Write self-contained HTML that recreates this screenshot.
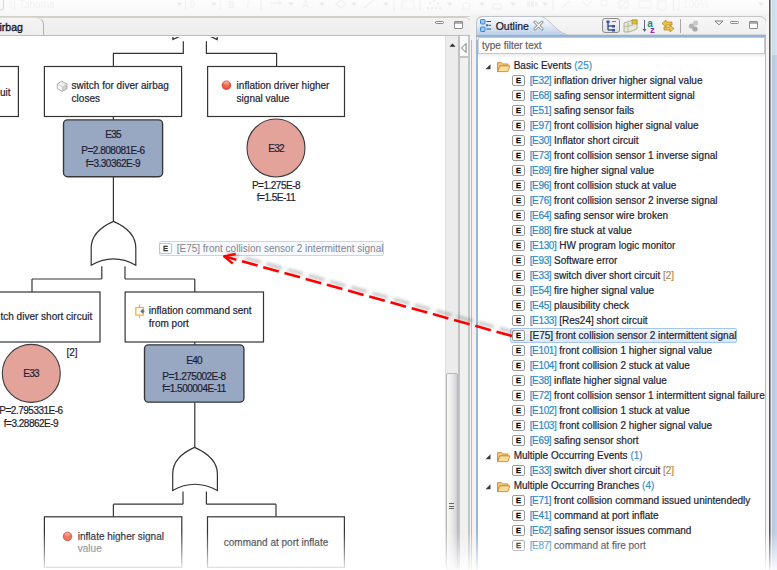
<!DOCTYPE html>
<html><head><meta charset="utf-8">
<style>
*{margin:0;padding:0;box-sizing:border-box}
html,body{width:777px;height:570px;overflow:hidden;background:#fff;font-family:"Liberation Sans",sans-serif;font-size:10px;color:#1e1e32}
.a{position:absolute}
.t{position:absolute;white-space:nowrap;line-height:12px;-webkit-text-stroke:0.2px currentColor}
#toolbar{left:0;top:0;width:777px;height:17px;background:linear-gradient(#fdfdfd,#f7f7f7);border-bottom:1.5px solid #d4d0c8}
#edtabs{left:0;top:16.5px;width:471.5px;height:19.5px;background:linear-gradient(#f2f2f2,#ededed);border-bottom:1.5px solid #bcbcbc;border-right:1px solid #b4b4b4;border-top:1px solid #d0d0d0;border-top-right-radius:7px}
#edbody{left:0;top:36px;width:471px;height:534px;background:#fff}
#outline{left:476px;top:16px;width:291px;height:554px;background:#fff;border-left:2px solid #9ab8da;border-right:1px solid #a4bedc}
.row{position:absolute;left:0;height:15px;white-space:nowrap;font-size:10px;line-height:15px;color:#1e1e32}
.eic{position:absolute;width:13px;height:11px;border:1px solid #9a9a9a;border-radius:2px;background:#fff;font-size:7.5px;font-weight:bold;line-height:9px;text-align:center;color:#000;-webkit-text-stroke:0.3px #000}
.id{color:#2c8ac8;letter-spacing:-0.35px}
.cnt{color:#3a8fc8}
.mul{color:#b08a55}
.n{letter-spacing:-0.5px}
</style></head><body>

<!-- top toolbar (faded) -->
<div id="toolbar" class="a"></div>
<svg class="a" style="left:0;top:-1px;opacity:0.3" width="770" height="16" viewBox="0 0 770 16">
<path d="M0 0 L1.5 0 Q3.5 0 3.5 2 L3.5 9 Q3.5 11 1.5 11 L0 11" fill="#fafafa" stroke="#8a8a8a" stroke-width="1"/>
<g fill="#d8d8d8"><rect x="10.5" y="3" width="1.2" height="1.2"/><rect x="10.5" y="5.5" width="1.2" height="1.2"/><rect x="10.5" y="8" width="1.2" height="1.2"/></g>
<line x1="14.5" y1="0" x2="14.5" y2="11" stroke="#dcdcdc"/>
<text x="19" y="8.5" font-family="Liberation Sans" font-size="10" fill="#dadada">Tahoma</text>
<line x1="185.7" y1="0" x2="185.7" y2="11" stroke="#d8d8d8"/>
<text x="189.5" y="8.5" font-family="Liberation Sans" font-size="10" fill="#dadada">9</text>
<line x1="220" y1="0" x2="220" y2="11" stroke="#dcdcdc"/>
<text x="228" y="8.5" font-family="Liberation Serif" font-size="10" font-weight="bold" fill="#e0e0e0">B</text>
<text x="246" y="8.5" font-family="Liberation Serif" font-size="10" font-style="italic" fill="#e0e0e0">I</text>
<line x1="261" y1="1" x2="261" y2="12" stroke="#d0d0d0" stroke-width="1"/><line x1="394" y1="1" x2="394" y2="12" stroke="#d0d0d0" stroke-width="1"/><line x1="420" y1="1" x2="420" y2="12" stroke="#d0d0d0" stroke-width="1"/><line x1="553" y1="1" x2="553" y2="12" stroke="#d0d0d0" stroke-width="1"/><line x1="673.6" y1="1" x2="673.6" y2="12" stroke="#d0d0d0" stroke-width="1"/><path d="M176.6 3.5 L182.6 3.5 L179.6 7 Z" fill="#c8c8c8"/><path d="M211 3.5 L217 3.5 L214 7 Z" fill="#c8c8c8"/><path d="M288 3.5 L294 3.5 L291 7 Z" fill="#c8c8c8"/><path d="M319 3.5 L325 3.5 L322 7 Z" fill="#c8c8c8"/><path d="M351 3.5 L357 3.5 L354 7 Z" fill="#c8c8c8"/><path d="M383 3.5 L389 3.5 L386 7 Z" fill="#c8c8c8"/><path d="M446.7 3.5 L452.7 3.5 L449.7 7 Z" fill="#c8c8c8"/><path d="M479 3.5 L485 3.5 L482 7 Z" fill="#c8c8c8"/><path d="M510 3.5 L516 3.5 L513 7 Z" fill="#c8c8c8"/><path d="M542 3.5 L548 3.5 L545 7 Z" fill="#c8c8c8"/><path d="M758 3.5 L764 3.5 L761 7 Z" fill="#c8c8c8"/>
<line x1="271" y1="4" x2="281" y2="4" stroke="#c4d0e4" stroke-width="1.2"/><path d="M279 2 L282 4 L279 6" fill="none" stroke="#c4d0e4"/>
<text x="302" y="9" font-family="Liberation Sans" font-size="10" fill="#e0e0e0">A</text>
<path d="M336 5 L341 1 L346 5 L341 9 Z" fill="none" stroke="#dcdcdc" stroke-width="1.5"/>
<path d="M364 9 L374 1" stroke="#dcdcdc" stroke-width="1.5"/>
<rect x="402" y="2" width="12" height="8" fill="none" stroke="#e0e0e0"/>
<g fill="#b8c8e0"><circle cx="428" cy="9" r="1"/><circle cx="432" cy="9" r="1"/><circle cx="436" cy="9" r="1"/><circle cx="440" cy="9" r="1"/><circle cx="430" cy="4" r="1"/><circle cx="434" cy="2" r="1"/><circle cx="438" cy="4" r="1"/></g>
<rect x="463" y="4" width="7" height="6" fill="none" stroke="#d4dce8"/>
<rect x="493" y="5" width="8" height="5" fill="none" stroke="#c8d4e8"/>
<rect x="527" y="2" width="3" height="6" fill="#f0e4c0"/><rect x="531" y="2" width="3" height="6" fill="#cddcf0"/><rect x="535" y="3" width="3" height="4" fill="#d0ecd0"/>
<g stroke="#e0e0e0" stroke-width="1.2" fill="none"><path d="M561 9 L570 2"/><path d="M582 2 L587 7 L592 2"/><circle cx="604" cy="4" r="3"/><rect x="619" y="2" width="9" height="7"/><path d="M619 10 L627 2"/><rect x="639" y="2" width="12" height="7"/><rect x="658" y="2" width="8" height="9"/></g>
<line x1="678.8" y1="0" x2="678.8" y2="12" stroke="#dcdcdc"/>
<text x="683" y="9" font-family="Liberation Sans" font-size="10" fill="#e2e2e2">100%</text>
</svg>

<!-- editor tab row -->
<div id="edtabs" class="a"></div>
<div class="a" style="left:-2px;top:16.5px;width:46px;height:18.5px;background:linear-gradient(#f4f4f4,#eeeeee);border-right:1.2px solid #b0b0b0;border-top:1px solid #dcdcdc;border-top-right-radius:9px 7px"></div>
<div class="t" style="left:-0.5px;top:21.3px;font-size:10.5px;color:#141428;-webkit-text-stroke:0.35px #141428">irbag</div>
<!-- editor min/max -->
<div class="a" style="left:435px;top:20.8px;width:9px;height:3.5px;border:1px solid #8a8a8a;border-radius:1.5px;background:#fff"></div>
<div class="a" style="left:454px;top:20.8px;width:9px;height:8px;border:1px solid #8c8c8c;border-radius:1px;background:linear-gradient(#a8a8a8 0,#b8b8b8 2px,#fff 2.5px)"></div>

<div id="edbody" class="a"></div>

<!-- diagram -->
<svg class="a" style="left:0;top:37px" width="445" height="533" viewBox="0 37 445 533">
<g fill="none" stroke="#343434" stroke-width="1.2">
  <!-- gate0 bottom (partial) -->
  <path d="M172.9 34 L172.9 39.6 Q194.6 27.5 217.2 39.6 L217.2 34" />
  <path d="M183.3 41.3 L183.3 53.4 L113.4 53.4 L113.4 66.5"/>
  <path d="M206.4 41.3 L206.4 53.4 L276.6 53.4 L276.6 66.5"/>
  <!-- top row boxes -->
  <rect x="-120" y="66.5" width="138.4" height="50"/>
  <rect x="44.4" y="66.5" width="137.2" height="50"/>
  <rect x="207.6" y="66.5" width="136.9" height="50"/>
  <line x1="113.4" y1="116.5" x2="113.4" y2="119.9"/>
  <line x1="113.4" y1="176.7" x2="113.4" y2="221.4"/>
  <!-- gate1 -->
  <path d="M113.5 221.4 C124 226 135.8 234 135.8 248 L135.8 265.3 Q113.5 252.5 91.2 265.3 L91.2 248 C91.2 234 103 226 113.5 221.4 Z"/>
  <line x1="101.8" y1="266.3" x2="101.8" y2="279"/><line x1="101.8" y1="279" x2="32" y2="279"/><line x1="32" y1="279" x2="32" y2="292"/>
  <line x1="125" y1="266.3" x2="125" y2="279"/><line x1="125" y1="279" x2="194.8" y2="279"/><line x1="194.8" y1="279" x2="194.8" y2="292"/>
  <rect x="-37" y="292" width="137" height="50"/>
  <rect x="125.1" y="292" width="138.4" height="50"/>
  <line x1="194.8" y1="342" x2="194.8" y2="344.8"/>
  <line x1="194.8" y1="402.2" x2="194.8" y2="447.4"/>
  <!-- gate2 -->
  <path d="M194.6 447.4 C205 452 217.4 460 217.4 474 L217.4 490.5 Q194.6 478 172.7 490.5 L172.7 474 C172.7 460 184 452 194.6 447.4 Z"/>
  <line x1="183" y1="491.5" x2="183" y2="504.2"/><line x1="183" y1="504.2" x2="113.4" y2="504.2"/><line x1="113.4" y1="504.2" x2="113.4" y2="516.8"/>
  <line x1="206.4" y1="491.5" x2="206.4" y2="504.2"/><line x1="206.4" y1="504.2" x2="276" y2="504.2"/><line x1="276" y1="504.2" x2="276" y2="516.8"/>
  <rect x="44.4" y="516.8" width="137.4" height="50.5"/>
  <rect x="207.5" y="516.8" width="136.9" height="50.5"/>
</g>
<!-- gates/events filled -->
<rect x="63.5" y="119.9" width="99.1" height="56.8" rx="4" fill="#98a8c2" stroke="#363636" stroke-width="1.35"/>
<rect x="144.5" y="344.8" width="99.4" height="57.4" rx="4" fill="#98a8c2" stroke="#363636" stroke-width="1.35"/>
<circle cx="276" cy="148" r="29" fill="#e3a39b" stroke="#3c3c3c" stroke-width="1.1"/>
<circle cx="31.3" cy="373.4" r="29" fill="#e3a39b" stroke="#3c3c3c" stroke-width="1.1"/>
<!-- icons -->
<g>
  <defs><radialGradient id="rg" cx="0.5" cy="0.45" r="0.55"><stop offset="0" stop-color="#f07a5e"/><stop offset="0.6" stop-color="#ea5d48"/><stop offset="1" stop-color="#d83a30"/></radialGradient>
  <linearGradient id="rgh" x1="0" y1="0" x2="0" y2="1"><stop offset="0" stop-color="#fff" stop-opacity="0.55"/><stop offset="1" stop-color="#fff" stop-opacity="0"/></linearGradient></defs>
  <circle cx="226.4" cy="85.2" r="4.7" fill="url(#rg)"/>
  <ellipse cx="226.4" cy="83.3" rx="3" ry="2" fill="url(#rgh)"/>
  <circle cx="67.5" cy="536.5" r="4.7" fill="url(#rg)"/>
  <ellipse cx="67.5" cy="534.6" rx="3" ry="2" fill="url(#rgh)"/>
  <!-- cube -->
  <path d="M61.5 81.2 L67 84 L62.3 86.8 L57.3 84 Z" fill="#efefef"/>
  <path d="M57.3 84 L62.3 86.8 L62.3 91.3 L57.3 88.6 Z" fill="#f8f8f8"/>
  <path d="M62.3 86.8 L67 84 L67 88.8 L62.3 91.3 Z" fill="#cfcfcf"/>
  <path d="M61.5 81.2 L67 84 L67 88.8 L62.3 91.3 L57.3 88.6 L57.3 84 Z" fill="none" stroke="#a4a4a4" stroke-width="0.9"/>
  <path d="M57.3 84 L62.3 86.8 L67 84 M62.3 86.8 L62.3 91.3" fill="none" stroke="#c4c4c4" stroke-width="0.7"/>
  <!-- port icon -->
  <rect x="135.8" y="307.5" width="7.6" height="7.6" fill="#fbfdff" stroke="#f8b02c" stroke-width="1.2"/>
  <line x1="139.5" y1="304.3" x2="139.5" y2="307.5" stroke="#f8b02c" stroke-width="1.2"/>
  <line x1="139.5" y1="315.1" x2="139.5" y2="317.8" stroke="#f8b02c" stroke-width="1.2"/>
  <path d="M140.3 311.2 L142.5 308.9 L144.7 311.2 L142.5 313.4 Z" fill="#6a7080"/>
</g>
</svg>

<!-- diagram text -->
<div class="t" style="left:0;top:87px">uit</div>
<div class="t" style="left:71.6px;top:80.1px">switch for diver airbag</div>
<div class="t" style="left:71.6px;top:92.8px">closes</div>
<div class="t" style="left:236.6px;top:80.1px">inflation driver higher</div>
<div class="t" style="left:236.6px;top:92.8px">signal value</div>
<div class="t n" style="left:63.5px;width:99px;text-align:center;top:129px;letter-spacing:-0.8px">E35</div>
<div class="t n" style="left:63.5px;width:99px;text-align:center;top:144.5px">P=2.808081E-6</div>
<div class="t n" style="left:63.5px;width:99px;text-align:center;top:157.6px">f=3.30362E-9</div>
<div class="t n" style="left:236px;width:80px;text-align:center;top:142.6px;letter-spacing:-0.8px">E32</div>
<div class="t n" style="left:236px;width:80px;text-align:center;top:180.2px">P=1.275E-8</div>
<div class="t n" style="left:236px;width:80px;text-align:center;top:192.4px">f=1.5E-11</div>
<div class="t" style="left:0.5px;top:311px">tch diver short circuit</div>
<div class="t" style="left:148.8px;top:305.4px">inflation command sent</div>
<div class="t" style="left:148.8px;top:318.3px">from port</div>
<div class="t" style="left:66.5px;top:346.5px">[2]</div>
<div class="t n" style="left:-9px;width:80px;text-align:center;top:368px;letter-spacing:-0.8px">E33</div>
<div class="t n" style="left:-9px;width:80px;text-align:center;top:405.2px">P=2.795331E-6</div>
<div class="t n" style="left:-9px;width:80px;text-align:center;top:417.6px">f=3.28862E-9</div>
<div class="t n" style="left:144.5px;width:99px;text-align:center;top:354.8px;letter-spacing:-0.8px">E40</div>
<div class="t n" style="left:144.5px;width:99px;text-align:center;top:371.1px">P=1.275002E-8</div>
<div class="t n" style="left:144.5px;width:99px;text-align:center;top:383.3px">f=1.500004E-11</div>
<div class="t" style="left:77.8px;top:531px">inflate higher signal</div>
<div class="t" style="left:77.8px;top:543px;color:#606066">value</div>
<div class="t" style="left:207.5px;width:137px;text-align:center;top:537px">command at port inflate</div>

<!-- scrollbar & dividers -->
<div class="a" style="left:445px;top:36px;width:13px;height:534px;background:#ececec;border-left:1px solid #e0e0e0"></div>
<div class="a" style="left:446px;top:373px;width:12px;height:197px;background:linear-gradient(90deg,#f8f8f8,#e6e6ea 60%,#cfcfd4);border:1px solid #b8b8b8;border-radius:2px"></div>
<div class="a" style="left:449px;top:503px;width:5px;height:1px;background:#666"></div>
<div class="a" style="left:449px;top:505.5px;width:5px;height:1px;background:#666"></div>
<div class="a" style="left:449px;top:508px;width:5px;height:1px;background:#666"></div>
<svg class="a" style="left:448px;top:42px" width="9" height="6"><path d="M1.5 4.8 L4.5 1.5 L7.5 4.8 Z" fill="#2a2a2a"/></svg>
<div class="a" style="left:458px;top:36px;width:2px;height:534px;background:#c2c2c2"></div>
<div class="a" style="left:460px;top:36px;width:8px;height:534px;background:#f0f0f0"></div>
<div class="a" style="left:460px;top:36px;width:8px;height:22px;background:#fafafa;border-bottom:2px solid #c4c4c4"></div>
<svg class="a" style="left:460px;top:42px" width="8" height="12"><path d="M6 1.5 L1.5 6 L6 10.5 Z" fill="#fff" stroke="#6a6a6a" stroke-width="0.9"/></svg>
<div class="a" style="left:468px;top:36px;width:2px;height:534px;background:#c6c6c6"></div>
<div class="a" style="left:470px;top:16px;width:6px;height:554px;background:#f4f2f0"></div>
<div class="a" style="left:471px;top:16px;width:1px;height:554px;background:#bcbcbc"></div>

<!-- outline panel -->
<div id="outline" class="a"></div>
<svg class="a" style="left:471px;top:14px" width="306" height="26" viewBox="471 14 306 26">
<defs><linearGradient id="tabg" x1="0" y1="0" x2="0" y2="1"><stop offset="0" stop-color="#fbfcfe"/><stop offset="0.45" stop-color="#e4ecf6"/><stop offset="1" stop-color="#b4cae6"/></linearGradient>
<linearGradient id="inact" x1="0" y1="0" x2="0" y2="1"><stop offset="0" stop-color="#f7f7f7"/><stop offset="1" stop-color="#ececec"/></linearGradient></defs>
<rect x="471" y="14" width="306" height="26" fill="#f2f2f2"/>
<path d="M476.5 40 L476.5 23 Q476.5 16.5 483 16.5 L759 16.5 Q766.5 16.5 766.5 24 L766.5 40 Z" fill="url(#inact)" stroke="#c6c6c6" stroke-width="1"/>
<path d="M476.5 36 L476.5 23 Q476.5 16.5 483 16.5 L540 16.5 C550 17 553 31 568 35 L568 36 Z" fill="url(#tabg)"/>
<path d="M476.5 36 L476.5 23 Q476.5 16.5 483 16.5 L540 16.5 C550 17 553 31 568 35 L766.5 35" fill="none" stroke="#bfc4ca" stroke-width="1"/>
<rect x="476" y="35" width="291" height="2" fill="#96b3d6"/>
<rect x="769" y="14" width="8" height="26" fill="#f2f2f2"/>
</svg>
<div class="t" style="left:495.7px;top:20.3px;font-size:10.5px;color:#15152a">Outline</div>
<svg class="a" style="left:480px;top:19px" width="12" height="13"><g fill="#9ccaf4" stroke="#2e78c8" stroke-width="0.9"><rect x="0.5" y="0.5" width="4.5" height="4.5" rx="0.8"/><rect x="0.5" y="8" width="4.5" height="4.5" rx="0.8"/></g><g stroke="#2a4e88" stroke-width="1"><line x1="6.5" y1="2.5" x2="11" y2="2.5"/><line x1="8.5" y1="6.3" x2="11" y2="6.3"/><line x1="6.5" y1="10" x2="11" y2="10"/></g><circle cx="7" cy="6.3" r="1.2" fill="#2e78c8"/></svg>
<svg class="a" style="left:533px;top:20px" width="11" height="11"><g stroke="#8a8a8a" stroke-width="3" stroke-linecap="round"><line x1="2" y1="2" x2="9" y2="9"/><line x1="9" y1="2" x2="2" y2="9"/></g><g stroke="#fff" stroke-width="1.2" stroke-linecap="round"><line x1="2" y1="2" x2="9" y2="9"/><line x1="9" y1="2" x2="2" y2="9"/></g></svg>
<!-- outline toolbar -->
<div class="a" style="left:602px;top:18px;width:18px;height:15px;border:1.5px solid #8c8c8c;border-radius:3px;background:linear-gradient(#f2f2f2,#e2e2e2)"></div>
<svg class="a" style="left:606px;top:20px" width="11" height="12"><g stroke="#1c3c7a" stroke-width="1.2" fill="none"><line x1="2" y1="1" x2="2" y2="10"/><line x1="2" y1="6" x2="6" y2="6"/><line x1="2" y1="10" x2="6" y2="10"/></g><g fill="#3050a0"><rect x="0.5" y="0.5" width="3" height="2.5"/><rect x="6" y="5" width="3" height="2.5"/><rect x="6" y="9" width="3" height="2.5"/></g><line x1="6" y1="1.5" x2="10" y2="1.5" stroke="#6a7ab0"/></svg>
<svg class="a" style="left:623px;top:19px" width="15" height="14"><path d="M1 4 L10 1 L14 1 L14 10 L6 13 L1 13 Z" fill="#e8e8d8" stroke="#a0a090" stroke-width="0.8"/><g stroke="#b0b0a0" stroke-width="0.8"><line x1="1" y1="8" x2="10" y2="6"/><line x1="5" y1="4" x2="5" y2="13"/></g><rect x="9" y="1" width="5" height="4" fill="#e0c040" stroke="#a08020" stroke-width="0.6"/></svg>
<svg class="a" style="left:642px;top:19px" width="15" height="14"><line x1="2.5" y1="1" x2="2.5" y2="12" stroke="#5a6a80" stroke-width="1"/><path d="M0.5 10 L2.5 13 L4.5 10 Z" fill="#5a6a80"/><text x="5.2" y="7.5" font-family="Liberation Sans" font-size="10" font-weight="bold" fill="#1f8a7e">a</text><text x="8" y="14" font-family="Liberation Sans" font-size="9.5" font-weight="bold" fill="#9a2aa8">z</text></svg>
<svg class="a" style="left:661px;top:19px" width="15" height="14"><path d="M5 1 L1 4.5 L5 8 L5 6 L11 6 L11 3 L5 3 Z" fill="#f0c040" stroke="#b08020" stroke-width="0.7"/><path d="M9 6 L13 9.5 L9 13 L9 11 L3 11 L3 8 L9 8 Z" fill="#f0c040" stroke="#b08020" stroke-width="0.7"/></svg>
<div class="a" style="left:680px;top:19px;width:1px;height:14px;background:#a8a8a8"></div>
<svg class="a" style="left:688px;top:20px" width="13" height="12"><circle cx="7.5" cy="3" r="2.6" fill="#c8c8c8"/><circle cx="3.5" cy="6" r="2.6" fill="#b4b4b4"/><circle cx="7" cy="9" r="2.6" fill="#a8a8a8"/></svg>
<svg class="a" style="left:713.5px;top:19.5px" width="10" height="6"><path d="M1 1 L9 1 L5 4.8 Z" fill="#fff" stroke="#707070" stroke-width="0.9"/></svg>
<div class="a" style="left:730px;top:20.5px;width:9px;height:3.5px;border:1px solid #8a8a8a;border-radius:1.5px;background:#fff"></div>
<div class="a" style="left:749px;top:20.8px;width:9px;height:8.5px;border:1px solid #8c8c8c;border-radius:1px;background:linear-gradient(#a8a8a8 0,#b8b8b8 2px,#fff 2.5px)"></div>

<!-- filter -->
<div class="a" style="left:478px;top:37px;width:287px;height:17px;background:#fff;border:1px solid #c8c8c8;border-left-color:#d4d4d4"></div>
<div class="t" style="left:482px;top:40px;color:#6a6060">type filter text</div>
<div class="a" style="left:478px;top:54px;width:287px;height:4px;background:linear-gradient(#ececec,#fff)"></div>

<!-- tree -->
<!-- TREE START -->
<svg class="a" style="left:485px;top:63.5px" width="7" height="7"><path d="M5.5 0.3 L5.5 5.3 L0.5 5.3 Z" fill="#3a3a3a"/></svg>
<svg class="a" style="left:496.6px;top:60.5px" width="14" height="12" viewBox="0 0 14.6 12.4"><path d="M0.6 1.6 L4.5 1.6 L6 3 L11.4 3 L11.4 5 L3 5 L0.6 11 Z" fill="#f4c878" stroke="#c8862c" stroke-width="0.9"/><path d="M3 5 L13.4 5 L11.4 11 L0.6 11 Z" fill="#fadc9c" stroke="#c8862c" stroke-width="0.9"/></svg>
<div class="t" style="left:513.7px;top:60px">Basic Events <span class="cnt">(25)</span></div>
<div class="eic" style="left:512px;top:75px">E</div>
<div class="t" style="left:529.7px;top:75px"><span class="id">[E32]</span> inflation driver higher signal value</div>
<div class="eic" style="left:512px;top:90px">E</div>
<div class="t" style="left:529.7px;top:90px"><span class="id">[E68]</span> safing sensor intermittent signal</div>
<div class="eic" style="left:512px;top:105px">E</div>
<div class="t" style="left:529.7px;top:105px"><span class="id">[E51]</span> safing sensor fails</div>
<div class="eic" style="left:512px;top:120px">E</div>
<div class="t" style="left:529.7px;top:120px"><span class="id">[E97]</span> front collision higher signal value</div>
<div class="eic" style="left:512px;top:135px">E</div>
<div class="t" style="left:529.7px;top:135px"><span class="id">[E30]</span> Inflator short circuit</div>
<div class="eic" style="left:512px;top:150px">E</div>
<div class="t" style="left:529.7px;top:150px"><span class="id">[E73]</span> front collision sensor 1 inverse signal</div>
<div class="eic" style="left:512px;top:165px">E</div>
<div class="t" style="left:529.7px;top:165px"><span class="id">[E89]</span> fire higher signal value</div>
<div class="eic" style="left:512px;top:180px">E</div>
<div class="t" style="left:529.7px;top:180px"><span class="id">[E96]</span> front collision stuck at value</div>
<div class="eic" style="left:512px;top:195px">E</div>
<div class="t" style="left:529.7px;top:195px"><span class="id">[E76]</span> front collision sensor 2 inverse signal</div>
<div class="eic" style="left:512px;top:210px">E</div>
<div class="t" style="left:529.7px;top:210px"><span class="id">[E64]</span> safing sensor wire broken</div>
<div class="eic" style="left:512px;top:225px">E</div>
<div class="t" style="left:529.7px;top:225px"><span class="id">[E88]</span> fire stuck at value</div>
<div class="eic" style="left:512px;top:240px">E</div>
<div class="t" style="left:529.7px;top:240px"><span class="id">[E130]</span> HW program logic monitor</div>
<div class="eic" style="left:512px;top:255px">E</div>
<div class="t" style="left:529.7px;top:255px"><span class="id">[E93]</span> Software error</div>
<div class="eic" style="left:512px;top:270px">E</div>
<div class="t" style="left:529.7px;top:270px"><span class="id">[E33]</span> switch diver short circuit <span class="mul">[2]</span></div>
<div class="eic" style="left:512px;top:285px">E</div>
<div class="t" style="left:529.7px;top:285px"><span class="id">[E54]</span> fire higher signal value</div>
<div class="eic" style="left:512px;top:300px">E</div>
<div class="t" style="left:529.7px;top:300px"><span class="id">[E45]</span> plausibility check</div>
<div class="eic" style="left:512px;top:315px">E</div>
<div class="t" style="left:529.7px;top:315px"><span class="id">[E133]</span> [Res24] short circuit</div>
<div class="a" style="left:510px;top:328px;width:227px;height:15px;border:1px solid #a6c6ee;border-radius:2px;background:linear-gradient(#eef5fd,#d9e9fa)"></div>
<div class="eic" style="left:512px;top:330px">E</div>
<div class="t" style="left:529.7px;top:330px"><span>[E75]</span> front collision sensor 2 intermittent signal</div>
<div class="eic" style="left:512px;top:345px">E</div>
<div class="t" style="left:529.7px;top:345px"><span class="id">[E101]</span> front collision 1 higher signal value</div>
<div class="eic" style="left:512px;top:360px">E</div>
<div class="t" style="left:529.7px;top:360px"><span class="id">[E104]</span> front collision 2 stuck at value</div>
<div class="eic" style="left:512px;top:375px">E</div>
<div class="t" style="left:529.7px;top:375px"><span class="id">[E38]</span> inflate higher signal value</div>
<div class="eic" style="left:512px;top:390px">E</div>
<div class="t" style="left:529.7px;top:390px"><span class="id">[E72]</span> front collision sensor 1 intermittent signal failure</div>
<div class="eic" style="left:512px;top:405px">E</div>
<div class="t" style="left:529.7px;top:405px"><span class="id">[E102]</span> front collision 1 stuck at value</div>
<div class="eic" style="left:512px;top:420px">E</div>
<div class="t" style="left:529.7px;top:420px"><span class="id">[E103]</span> front collision 2 higher signal value</div>
<div class="eic" style="left:512px;top:435px">E</div>
<div class="t" style="left:529.7px;top:435px"><span class="id">[E69]</span> safing sensor short</div>
<svg class="a" style="left:485px;top:453.5px" width="7" height="7"><path d="M5.5 0.3 L5.5 5.3 L0.5 5.3 Z" fill="#3a3a3a"/></svg>
<svg class="a" style="left:496.6px;top:450.5px" width="14" height="12" viewBox="0 0 14.6 12.4"><path d="M0.6 1.6 L4.5 1.6 L6 3 L11.4 3 L11.4 5 L3 5 L0.6 11 Z" fill="#f4c878" stroke="#c8862c" stroke-width="0.9"/><path d="M3 5 L13.4 5 L11.4 11 L0.6 11 Z" fill="#fadc9c" stroke="#c8862c" stroke-width="0.9"/></svg>
<div class="t" style="left:513.7px;top:450px">Multiple Occurring Events <span class="cnt">(1)</span></div>
<div class="eic" style="left:512px;top:465px">E</div>
<div class="t" style="left:529.7px;top:465px"><span class="id">[E33]</span> switch diver short circuit <span class="mul">[2]</span></div>
<svg class="a" style="left:485px;top:483.5px" width="7" height="7"><path d="M5.5 0.3 L5.5 5.3 L0.5 5.3 Z" fill="#3a3a3a"/></svg>
<svg class="a" style="left:496.6px;top:480.5px" width="14" height="12" viewBox="0 0 14.6 12.4"><path d="M0.6 1.6 L4.5 1.6 L6 3 L11.4 3 L11.4 5 L3 5 L0.6 11 Z" fill="#f4c878" stroke="#c8862c" stroke-width="0.9"/><path d="M3 5 L13.4 5 L11.4 11 L0.6 11 Z" fill="#fadc9c" stroke="#c8862c" stroke-width="0.9"/></svg>
<div class="t" style="left:513.7px;top:480px">Multiple Occurring Branches <span class="cnt">(4)</span></div>
<div class="eic" style="left:512px;top:495px">E</div>
<div class="t" style="left:529.7px;top:495px"><span class="id">[E71]</span> front collision command issued unintendedly</div>
<div class="eic" style="left:512px;top:510px">E</div>
<div class="t" style="left:529.7px;top:510px"><span class="id">[E41]</span> command at port inflate</div>
<div class="eic" style="left:512px;top:525px">E</div>
<div class="t" style="left:529.7px;top:525px"><span class="id">[E62]</span> safing sensor issues command</div>
<div class="eic" style="left:512px;top:540px">E</div>
<div class="t" style="left:529.7px;top:540px"><span class="id">[E87]</span> command at fire port</div>
<!-- TREE END -->

<!-- right frame -->
<div class="a" style="left:765px;top:37px;width:2px;height:533px;background:#a2bede"></div>
<div class="a" style="left:766px;top:16px;width:3px;height:554px;background:#f6f6f6"></div>
<div class="a" style="left:769px;top:0;width:1px;height:570px;background:#555"></div>
<div class="a" style="left:770px;top:0;width:1px;height:570px;background:#9a9a9a"></div>
<div class="a" style="left:771px;top:0;width:1px;height:570px;background:#e8eef6"></div>
<div class="a" style="left:772px;top:0;width:5px;height:55px;background:linear-gradient(90deg,#c8d8ec,#d8e4f2)"></div>
<div class="a" style="left:772px;top:55px;width:5px;height:515px;background:linear-gradient(90deg,#b4c8e2,#c4d4ea)"></div>


<!-- drag ghost tooltip -->
<div class="a" style="left:158.6px;top:241.2px;width:225px;height:15px;border:1px solid #c4d6f0;border-radius:2px;background:rgba(240,246,253,0.6)"></div>
<div class="eic" style="left:159px;top:243px;color:#707070;border-color:#c4c4c4">E</div>
<div class="t" style="left:176.7px;top:242.7px;color:#84848f;-webkit-text-stroke:0">[E75] front collision sensor 2 intermittent signal</div>

<!-- arrow -->
<svg class="a" style="left:0;top:0" width="777" height="570" viewBox="0 0 777 570">
<defs><filter id="bl" x="-10%" y="-50%" width="120%" height="200%"><feGaussianBlur stdDeviation="1.7"/></filter></defs>
<g filter="url(#bl)" opacity="0.36" transform="translate(3.2,-3.3)">
<line x1="512" y1="336" x2="224.1" y2="256.3" stroke="#606060" stroke-width="3.2" stroke-dasharray="16.1 5.9"/>
</g>
<line x1="512" y1="336" x2="224.1" y2="256.3" stroke="#ff0000" stroke-width="2.6" stroke-dasharray="16.1 5.9"/>
<path d="M235.7 254 L224.1 256.3 L232.8 263.7" fill="none" stroke="#ff0000" stroke-width="2.3" stroke-linejoin="round"/>
</svg>

<!-- bottom fade -->
<div class="a" style="left:0;top:532px;width:777px;height:38px;background:linear-gradient(rgba(255,255,255,0),rgba(255,255,255,0.42) 50%,rgba(255,255,255,0.9) 100%)"></div>
</body></html>
